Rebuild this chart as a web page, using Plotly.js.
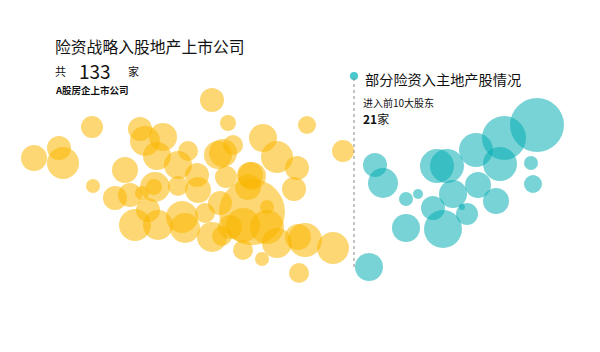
<!DOCTYPE html>
<html><head><meta charset="utf-8">
<script src="https://cdn.plot.ly/plotly-3.0.1.min.js"></script>
<style>html,body{margin:0;padding:0;background:#fff}#chart{width:600px;height:352px}</style>
</head><body><div id="chart"></div>
<script>
// Yellow bubbles: A-share listed property companies (x, y position, diameter)
const yellowX = [212,228,92,307,140,163,145,263,59,34,63,157,188,233,277,343,223,125,178,197,226,252,297,93,155,115,130,142,154,178,198,248,294,220,252,148,135,158,182,185,205,212,230,243,267,267,277,298,305,333,243,262,299,222,218,250];
const yellowY = [100,123,127,125,129,137,141,138,148,158,163,156,151,145,157,151,153,170,165,175,177,176,168,186,187,198,195,193,187,186,190,187,189,203,212,210,225,225,217,228,213,237,227,225,227,207,243,237,240,248,250,259,273,236,155,175];
const yellowD = [24,16,22,18,24,28,30,28,24,26,32,28,20,20,32,22,28,26,28,24,22,28,24,14,30,24,24,14,16,20,26,26,24,24,66,24,32,30,32,30,20,30,24,34,34,14,30,26,34,32,20,14,20,20,28,26];

// Teal bubbles: insurers entering top-10 shareholders (21)
const tealX = [537,504,476,500,531,533,437,447,375,383,478,453,406,418,433,496,467,462,443,406,369];
const tealY = [125,138,150,164,163,184,166,166,165,183,185,194,199,194,208,201,214,207,229,228,267];
const tealD = [54,44,34,34,14,18,34,34,24,30,26,28,14,10,24,26,22,6,38,28,28];

const titleLeft = '险资战略入股地产上市公司';
const countLeft = '133';
const subLeft = 'A股房企上市公司';
const titleRight = '部分险资入主地产股情况';
const subRight = '进入前10大股东';
const countRight = '21';

const traces = [
  {type:'scatter', mode:'markers', x:yellowX, y:yellowY, hoverinfo:'skip',
   marker:{size:yellowD, sizemode:'diameter', color:'rgb(250,182,0)', opacity:0.55, line:{width:0}}},
  {type:'scatter', mode:'markers', x:tealX, y:tealY, hoverinfo:'skip',
   marker:{size:tealD, sizemode:'diameter', color:'rgb(0,172,178)', opacity:0.53, line:{width:0}}},
  {type:'scatter', mode:'markers', x:[354], y:[76], hoverinfo:'skip',
   marker:{size:8, color:'rgb(70,200,205)', line:{width:0}}}
];

const F = '"Noto Sans CJK SC", "Noto Sans", sans-serif';
function ann(text, x, y, size, extra){
  return Object.assign({text:text, x:x, y:y, xref:'x', yref:'y', showarrow:false, borderpad:0,
    xanchor:'left', yanchor:'middle', font:{family:F, size:size, color:'#111'}}, extra||{});
}

const layout = {
  width:600, height:352, margin:{l:0,r:0,t:0,b:0},
  paper_bgcolor:'#fff', plot_bgcolor:'#fff', showlegend:false,
  xaxis:{range:[0,600], visible:false, fixedrange:true},
  yaxis:{range:[352,0], visible:false, fixedrange:true},
  shapes:[{type:'line', xref:'x', yref:'y', x0:354, x1:354, y0:78, y1:270,
    line:{color:'#888', width:1, dash:'dot'}}],
  annotations:[
    ann(titleLeft, 54, 46, 15.8),
    ann('共', 54, 71, 11),
    ann(countLeft, 78, 70, 19),
    ann('家', 127, 71, 11),
    ann(subLeft, 54, 90, 9.5, {font:{family:F, size:9.5, color:'#111', weight:'bold'}}),
    ann(titleRight, 364, 79, 14.2),
    ann(subRight, 362, 102, 10),
    ann('<b>'+countRight+'</b>家', 362, 118, 12)
  ]
};
Plotly.newPlot('chart', traces, layout, {staticPlot:true, displayModeBar:false});
</script></body></html>
